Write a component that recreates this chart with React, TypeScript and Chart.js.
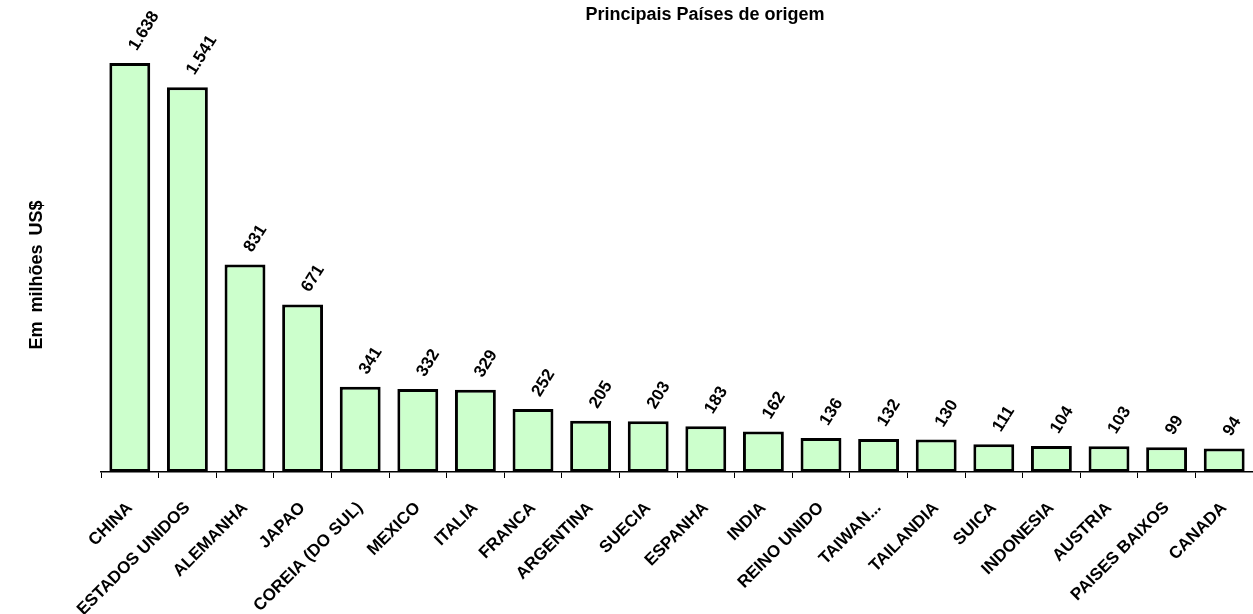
import React, { useEffect, useRef } from "react";
import { Chart, registerables } from "chart.js";

Chart.register(...registerables);

const TITLE = "Principais Países de origem";
const Y_TITLE = "Em milhões US$";

const countries = [
  "CHINA",
  "ESTADOS UNIDOS",
  "ALEMANHA",
  "JAPAO",
  "COREIA (DO SUL)",
  "MEXICO",
  "ITALIA",
  "FRANCA",
  "ARGENTINA",
  "SUECIA",
  "ESPANHA",
  "INDIA",
  "REINO UNIDO",
  "TAIWAN...",
  "TAILANDIA",
  "SUICA",
  "INDONESIA",
  "AUSTRIA",
  "PAISES BAIXOS",
  "CANADA",
];

const values = [1638, 1541, 831, 671, 341, 332, 329, 252, 205, 203, 183, 162, 136, 132, 130, 111, 104, 103, 99, 94];

const FONT = "'Liberation Sans', Arial, Helvetica, sans-serif";

function fmt(n: number): string {
  return String(n).replace(/\B(?=(\d{3})+(?!\d))/g, ".");
}

const textPlugin = {
  id: "customText",
  afterDatasetsDraw(chart: any) {
    const ctx = chart.ctx;
    const meta = chart.getDatasetMeta(0);
    ctx.save();
    ctx.fillStyle = "#000";
    ctx.font = `bold 17px ${FONT}`;
    ctx.textAlign = "left";
    ctx.textBaseline = "middle";
    meta.data.forEach((bar: any, i: number) => {
      const x = bar.x + 3;
      const y = bar.y - 14;
      ctx.save();
      ctx.translate(x, y);
      ctx.rotate((-58 * Math.PI) / 180);
      ctx.fillText(fmt(values[i]), 0, 0);
      ctx.restore();
    });
    ctx.restore();
  },
  afterDraw(chart: any) {
    const ctx = chart.ctx;
    ctx.save();
    ctx.fillStyle = "#000";
    ctx.font = `bold 18px ${FONT}`;
    ctx.textAlign = "center";
    ctx.textBaseline = "alphabetic";
    ctx.fillText(TITLE, 705, 20);
    ctx.save();
    ctx.translate(42, 275);
    ctx.rotate(-Math.PI / 2);
    ctx.font = `bold 18px ${FONT}`;
    try {
      (ctx as any).wordSpacing = "4px";
    } catch (e) {}
    ctx.fillText(Y_TITLE, 0, 0);
    ctx.restore();
    ctx.restore();
  },
};

export default function App() {
  const ref = useRef<HTMLCanvasElement | null>(null);
  useEffect(() => {
    if (!ref.current) return;
    const chart = new Chart(ref.current, {
      type: "bar",
      data: {
        labels: countries,
        datasets: [
          {
            data: values,
            backgroundColor: "#CCFFCC",
            borderColor: "#000000",
            borderWidth: 3,
            borderSkipped: false,
            barPercentage: 0.71,
            categoryPercentage: 1,
          },
        ],
      },
      options: {
        animation: false,
        responsive: true,
        maintainAspectRatio: false,
        layout: { padding: { left: 101, right: 0, top: 22.5, bottom: 0 } },
        plugins: {
          legend: { display: false },
          title: { display: false },
          tooltip: { enabled: false },
        },
        scales: {
          x: {
            offset: true,
            grid: {
              display: true,
              offset: true,
              drawOnChartArea: false,
              drawTicks: true,
              tickLength: 6,
              tickColor: "#000",
              tickWidth: 1,
            },
            border: { display: true, color: "#000", width: 1.5 },
            ticks: {
              autoSkip: false,
              maxRotation: 45,
              minRotation: 45,
              padding: 20,
              color: "#000",
              font: { family: FONT, size: 17, weight: "bold" },
            },
            afterFit(scale: any) {
              scale.height = 142;
              scale.paddingLeft = 0;
              scale.paddingRight = 0;
            },
          },
          y: {
            display: false,
            min: 0,
            max: 1800,
          },
        },
      },
      plugins: [textPlugin],
    });
    return () => chart.destroy();
  }, []);
  return (
    <div style={{ position: "fixed", left: 0, top: 0, width: 1253, height: 614, background: "#fff" }}>
      <canvas ref={ref} />
    </div>
  );
}
